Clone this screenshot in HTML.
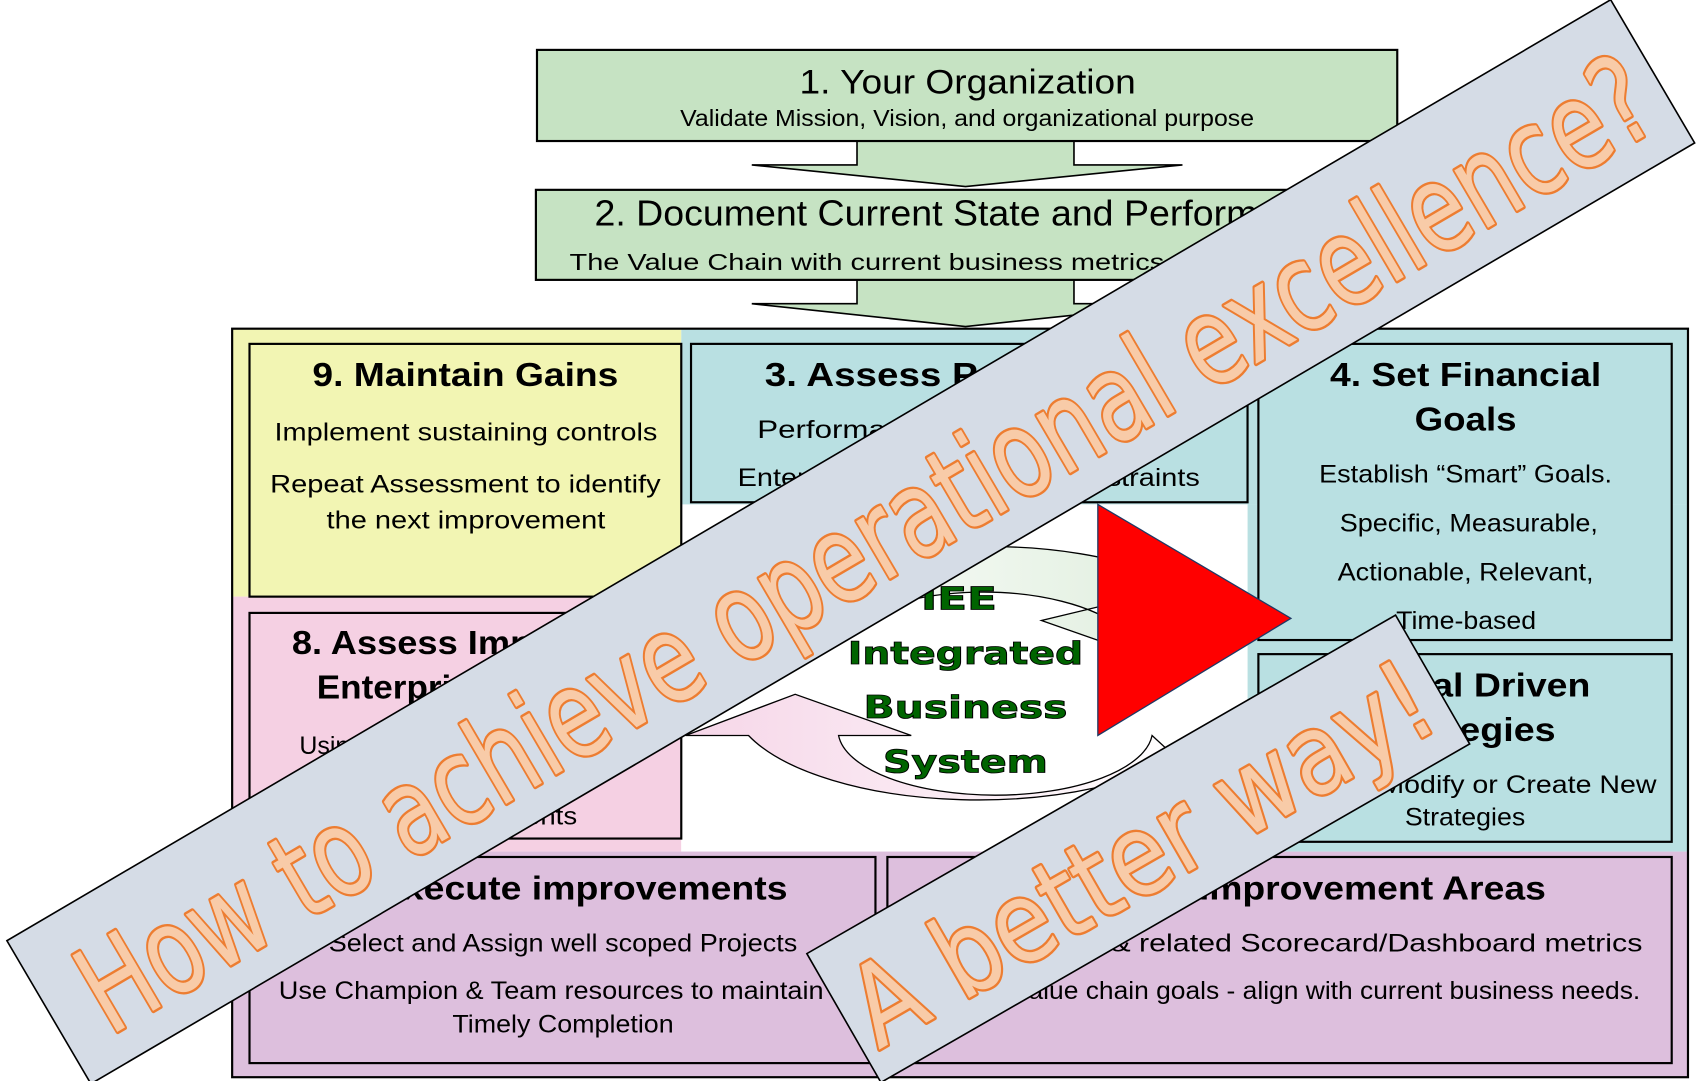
<!DOCTYPE html>
<html><head><meta charset="utf-8"><style>
html,body{margin:0;padding:0;background:#fff;overflow:hidden}
svg{display:block}
.t{font-family:"Liberation Sans",Arial,Helvetica,sans-serif;fill:#000}
.b{font-weight:bold}
</style></head><body>
<svg width="1701" height="1081" viewBox="0 0 1568 996.5" preserveAspectRatio="none" xmlns="http://www.w3.org/2000/svg">
<defs>
<linearGradient id="gg" x1="0" x2="1" y1="0" y2="0"><stop offset="0" stop-color="#ffffff"/><stop offset="1" stop-color="#dfeedd"/></linearGradient>
<linearGradient id="pg" x1="0" x2="1" y1="0" y2="0"><stop offset="0" stop-color="#f6d6e8"/><stop offset="1" stop-color="#ffffff"/></linearGradient>
</defs>
<rect width="1568" height="997" fill="#fff"/>
<polygon points="790,125 790,152 693,152 890,172 1090,152 990,152 990,125" fill="#c6e3c3" stroke="#000" stroke-width="1.5"/>
<polygon points="790,255 790,280 693,280 890,301 1090,280 990,280 990,255" fill="#c6e3c3" stroke="#000" stroke-width="1.5"/>
<rect x="495" y="46" width="793" height="84" fill="#c6e3c3" stroke="#000" stroke-width="2"/>
<rect x="494" y="175" width="794" height="83" fill="#c6e3c3" stroke="#000" stroke-width="2"/>
<g font-family="Liberation Sans, Arial, Helvetica, sans-serif">
<text class="t" x="737" y="86" font-size="32" textLength="310" lengthAdjust="spacingAndGlyphs">1. Your Organization</text>
<text class="t" x="627" y="116" font-size="21" textLength="529" lengthAdjust="spacingAndGlyphs">Validate Mission, Vision, and organizational purpose</text>
<text class="t" x="548" y="208" font-size="33" textLength="686" lengthAdjust="spacingAndGlyphs">2. Document Current State and Performance</text>
<text class="t" x="525" y="249" font-size="21" textLength="732" lengthAdjust="spacingAndGlyphs">The Value Chain with current business metrics (Satellite-level)</text>
</g>
<rect x="214" y="303" width="414" height="247" fill="#f2f5b3"/>
<rect x="214" y="550" width="414" height="235" fill="#f5d0e3"/>
<rect x="628" y="303" width="928" height="162" fill="#b9e0e2"/>
<rect x="1150" y="465" width="406" height="320" fill="#b9e0e2"/>
<rect x="628" y="465" width="522" height="320" fill="#fff"/>
<rect x="214" y="785" width="1342" height="208" fill="#ddbfdd"/>
<rect x="214" y="303" width="1342" height="690" fill="none" stroke="#000" stroke-width="2"/>
<rect x="230" y="317" width="398" height="233" fill="#f2f5b3" stroke="#000" stroke-width="2"/>
<rect x="637" y="317" width="513" height="146" fill="#b9e0e2" stroke="#000" stroke-width="2"/>
<rect x="1160" y="317" width="381" height="273" fill="#b9e0e2" stroke="#000" stroke-width="2"/>
<rect x="1160" y="603" width="381" height="173" fill="#b9e0e2" stroke="#000" stroke-width="2"/>
<rect x="230" y="565" width="398" height="208" fill="#f5d0e3" stroke="#000" stroke-width="2"/>
<rect x="230" y="790" width="577" height="190" fill="#ddbfdd" stroke="#000" stroke-width="2"/>
<rect x="818" y="790" width="723" height="190" fill="#ddbfdd" stroke="#000" stroke-width="2"/>
<g font-family="Liberation Sans, Arial, Helvetica, sans-serif">
<text class="t b" x="288" y="356" font-size="31" textLength="282" lengthAdjust="spacingAndGlyphs">9. Maintain Gains</text>
<text class="t" x="253" y="406" font-size="23" textLength="353" lengthAdjust="spacingAndGlyphs">Implement sustaining controls</text>
<text class="t" x="249" y="454" font-size="23" textLength="360" lengthAdjust="spacingAndGlyphs">Repeat Assessment to identify</text>
<text class="t" x="301" y="487" font-size="23" textLength="257" lengthAdjust="spacingAndGlyphs">the next improvement</text>
<text class="t b" x="705" y="356" font-size="31" textLength="390" lengthAdjust="spacingAndGlyphs">3. Assess Performance</text>
<text class="t" x="698" y="404" font-size="23" textLength="380" lengthAdjust="spacingAndGlyphs">Performance Metrics Analysis</text>
<text class="t" x="680" y="448" font-size="23" textLength="426" lengthAdjust="spacingAndGlyphs">Enterprise Improvement Constraints</text>
<text class="t b" x="1226" y="356" font-size="31" textLength="250" lengthAdjust="spacingAndGlyphs">4. Set Financial</text>
<text class="t b" x="1304" y="397" font-size="31" textLength="94" lengthAdjust="spacingAndGlyphs">Goals</text>
<text class="t" x="1216" y="445" font-size="23" textLength="270" lengthAdjust="spacingAndGlyphs">Establish “Smart” Goals.</text>
<text class="t" x="1235" y="490" font-size="23" textLength="238" lengthAdjust="spacingAndGlyphs">Specific, Measurable,</text>
<text class="t" x="1233" y="535" font-size="23" textLength="236" lengthAdjust="spacingAndGlyphs">Actionable, Relevant,</text>
<text class="t" x="1287" y="580" font-size="23" textLength="129" lengthAdjust="spacingAndGlyphs">Time-based</text>
<text class="t b" x="1234" y="642" font-size="31" textLength="232" lengthAdjust="spacingAndGlyphs">5. Goal Driven</text>
<text class="t b" x="1266" y="683" font-size="31" textLength="168" lengthAdjust="spacingAndGlyphs">Strategies</text>
<text class="t" x="1173" y="731" font-size="23" textLength="354" lengthAdjust="spacingAndGlyphs">Review, Modify or Create New</text>
<text class="t" x="1295" y="761" font-size="23" textLength="111" lengthAdjust="spacingAndGlyphs">Strategies</text>
<text class="t b" x="269" y="603" font-size="31" textLength="320" lengthAdjust="spacingAndGlyphs">8. Assess Impact on</text>
<text class="t b" x="292" y="644" font-size="31" textLength="160" lengthAdjust="spacingAndGlyphs">Enterprise</text>
<text class="t" x="276" y="695" font-size="23">Using Enterprise Scorecard</text>
<text class="t" x="276" y="728" font-size="23">to measure the impact of</text>
<text class="t" x="330" y="760" font-size="23" textLength="202" lengthAdjust="spacingAndGlyphs">the improvements</text>
<text class="t b" x="310" y="829" font-size="31" textLength="416" lengthAdjust="spacingAndGlyphs">7. Execute improvements</text>
<text class="t" x="303" y="877" font-size="23" textLength="432" lengthAdjust="spacingAndGlyphs">Select and Assign well scoped Projects</text>
<text class="t" x="257" y="921" font-size="23" textLength="523" lengthAdjust="spacingAndGlyphs">Use Champion &amp; Team resources to maintain a</text>
<text class="t" x="417" y="952" font-size="23" textLength="204" lengthAdjust="spacingAndGlyphs">Timely Completion</text>
<text class="t b" x="935" y="829" font-size="31" textLength="490" lengthAdjust="spacingAndGlyphs">6. Identify Improvement Areas</text>
<text class="t" x="846" y="877" font-size="23" textLength="668" lengthAdjust="spacingAndGlyphs">Identify Areas &amp; related Scorecard/Dashboard metrics</text>
<text class="t" x="848" y="921" font-size="23" textLength="664" lengthAdjust="spacingAndGlyphs">Align to value chain goals - align with current business needs.</text>
</g>
<path d="M690,585 A228,98 0 0 1 1100,545 L1100,520 L1060,548 L960,572 L1040,600 L1035,580 A145,64 0 0 0 773,585 Z" fill="url(#gg)" stroke="#000" stroke-width="1.2"/>
<path d="M690,678 A228,94 0 0 0 1100,690 L1075,690 L1062,678 A145,60 0 0 1 773,678 L840,678 L733,640 L632,678 Z" fill="url(#pg)" stroke="#000" stroke-width="1.2"/>
<g font-family="'DejaVu Sans',sans-serif" font-weight="bold" fill="#006400" stroke="#000" stroke-width="0.8" text-anchor="middle" font-size="29">
<text x="884" y="562" textLength="70" lengthAdjust="spacingAndGlyphs">IEE</text>
<text x="890" y="612" textLength="217" lengthAdjust="spacingAndGlyphs">Integrated</text>
<text x="890" y="662" textLength="188" lengthAdjust="spacingAndGlyphs">Business</text>
<text x="890" y="712" textLength="152" lengthAdjust="spacingAndGlyphs">System</text>
</g>
<polygon points="1012,465 1012,678 1190,570" fill="#ff0000" stroke="#1f3864" stroke-width="1.2"/>
<g transform="translate(784,499) rotate(-30.4)">
<rect x="-857" y="-76" width="1714" height="153" fill="#d5dce6" stroke="#000" stroke-width="1.5"/>
<text x="10" y="48" text-anchor="middle" font-family="'DejaVu Sans',sans-serif" font-size="112" fill="#f8cba8" stroke="#ed7d31" stroke-width="4.5" stroke-linejoin="round" paint-order="stroke" textLength="1660" lengthAdjust="spacingAndGlyphs">How to achieve operational excellence?</text>
</g>
<g transform="translate(1049,782) rotate(-29.9)">
<rect x="-313" y="-68" width="626" height="137" fill="#d5dce6" stroke="#000" stroke-width="1.5"/>
<text x="0" y="42" text-anchor="middle" font-family="'DejaVu Sans',sans-serif" font-size="104" fill="#f8cba8" stroke="#ed7d31" stroke-width="4.5" stroke-linejoin="round" paint-order="stroke" textLength="600" lengthAdjust="spacingAndGlyphs">A better way!</text>
</g>
</svg>
</body></html>
